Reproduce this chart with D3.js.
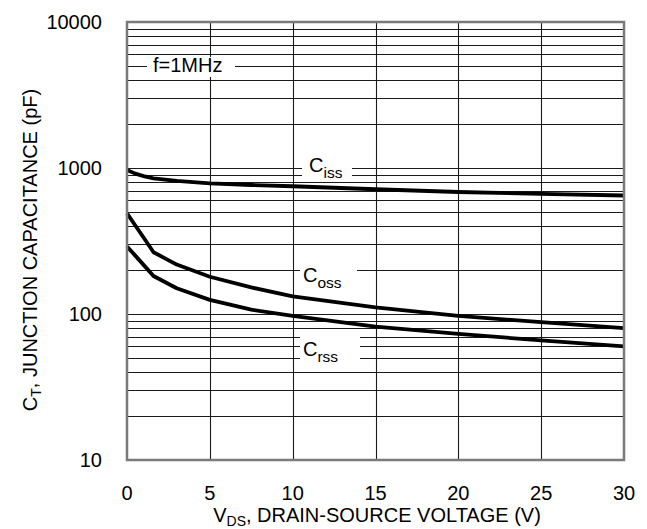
<!DOCTYPE html>
<html>
<head>
<meta charset="utf-8">
<script src="https://cdn.jsdelivr.net/npm/d3@7"></script>
<style>
    html, body { margin: 0; padding: 0; background: #fff; }
    svg { display: block; }
</style>
</head>
<body>
<div id="chart"></div>
<script>
// Data (pF vs V)
const voltage = [0, 0.5, 1, 1.6, 3, 5, 7.5, 10, 15, 20, 25, 30];
const ciss = [970, 915, 880, 848, 815, 785, 765, 750, 715, 685, 665, 648];
const coss = [490, 404, 334, 265, 218, 180, 152, 132, 111, 97, 88, 80];
const crss = [290, 251, 217, 182, 150, 125, 107, 97, 82, 73, 66, 60];

const xTicks = [0, 5, 10, 15, 20, 25, 30];
const yTicks = [10, 100, 1000, 10000];

const WIDTH = 647;
const HEIGHT = 529;
const FONT = 'Liberation Sans, Arial, Helvetica, sans-serif';
const FONT_SIZE = 20;
const SUB_SIZE = 15.5;
const margin = { left: 127, right: 23, top: 22, bottom: 69 };

const svg = d3.select('#chart').append('svg')
    .attr('width', WIDTH)
    .attr('height', HEIGHT)
    .attr('font-family', FONT)
    .attr('fill', '#000');

const x = d3.scaleLinear().domain([0, 30]).range([margin.left, WIDTH - margin.right]);
const y = d3.scaleLog().domain([10, 10000]).range([HEIGHT - margin.bottom, margin.top]);

// grid
const grid = svg.append('g').attr('class', 'grid');
const minorValues = [];
[10, 100, 1000].forEach(decade => {
    for (let m = 1; m < 10; m++) minorValues.push(decade * m);
});

grid.selectAll('line.h')
    .data(minorValues)
    .join('line')
    .attr('class', 'h')
    .attr('x1', x(0)).attr('x2', x(30))
    .attr('y1', d => Math.round(y(d)) + 0.5)
    .attr('y2', d => Math.round(y(d)) + 0.5)
    .attr('stroke', '#1a1a1a')
    .attr('stroke-width', 1.1);

grid.selectAll('line.v')
    .data(xTicks.slice(1, -1))
    .join('line')
    .attr('class', 'v')
    .attr('x1', d => Math.round(x(d)) + 0.5)
    .attr('x2', d => Math.round(x(d)) + 0.5)
    .attr('y1', y(10000)).attr('y2', y(10))
    .attr('stroke', '#1a1a1a')
    .attr('stroke-width', 1.1);

// white boxes that cut the grid behind labels
const labelBoxes = [
    { x0: 147, x1: 235, y0: 57, y1: 77 },
    { x0: 302, x1: 352, y0: 160, y1: 180 },
    { x0: 300, x1: 357, y0: 252, y1: 290 },
    { x0: 300, x1: 360, y0: 332, y1: 364 }
];
svg.selectAll('rect.box')
    .data(labelBoxes)
    .join('rect')
    .attr('class', 'box')
    .attr('x', d => d.x0).attr('y', d => d.y0)
    .attr('width', d => d.x1 - d.x0).attr('height', d => d.y1 - d.y0)
    .attr('fill', '#fff');

// curves
const line = d3.line()
    .x((d, i) => x(voltage[i]))
    .y(d => y(d));

svg.selectAll('path.curve')
    .data([ciss, coss, crss])
    .join('path')
    .attr('class', 'curve')
    .attr('d', line)
    .attr('fill', 'none')
    .attr('stroke', '#000')
    .attr('stroke-width', 3.8)
    .attr('stroke-linejoin', 'round');

// frame
svg.append('rect')
    .attr('x', x(0)).attr('y', y(10000))
    .attr('width', x(30) - x(0)).attr('height', y(10) - y(10000))
    .attr('fill', 'none')
    .attr('stroke', '#7a7a7a')
    .attr('stroke-width', 2.5);

// tick labels
svg.selectAll('text.ytick')
    .data(yTicks)
    .join('text')
    .attr('class', 'ytick')
    .attr('x', 102)
    .attr('y', d => y(d))
    .attr('dy', '0.35em')
    .attr('text-anchor', 'end')
    .attr('font-size', FONT_SIZE)
    .text(d => d);

svg.selectAll('text.xtick')
    .data(xTicks)
    .join('text')
    .attr('class', 'xtick')
    .attr('x', d => x(d))
    .attr('y', y(10) + 33)
    .attr('dy', '0.35em')
    .attr('text-anchor', 'middle')
    .attr('font-size', FONT_SIZE)
    .text(d => d);

// curve labels
function subLabel(px, py, main, sub) {
    const t = svg.append('text')
        .attr('x', px).attr('y', py)
        .attr('font-size', FONT_SIZE);
    t.append('tspan').text(main);
    t.append('tspan').attr('dy', 6).attr('font-size', SUB_SIZE).text(sub);
    return t;
}

svg.append('text')
    .attr('x', 153).attr('y', 72)
    .attr('font-size', FONT_SIZE)
    .text('f=1MHz');

subLabel(309, 172, 'C', 'iss');
subLabel(303, 282, 'C', 'oss');
subLabel(303, 356, 'C', 'rss');

// axis titles
const xTitle = svg.append('text')
    .attr('x', 377).attr('y', 522)
    .attr('text-anchor', 'middle')
    .attr('font-size', FONT_SIZE);
xTitle.append('tspan').text('V');
xTitle.append('tspan').attr('dy', 4).attr('font-size', 14).text('DS');
xTitle.append('tspan').attr('dy', -4).text(', DRAIN-SOURCE VOLTAGE (V)');

const yTitle = svg.append('text')
    .attr('transform', 'translate(37, 250) rotate(-90)')
    .attr('text-anchor', 'middle')
    .attr('font-size', FONT_SIZE);
yTitle.append('tspan').text('C');
yTitle.append('tspan').attr('dy', 4).attr('font-size', 14).text('T');
yTitle.append('tspan').attr('dy', -4).text(', JUNCTION CAPACITANCE (pF)');
</script>
</body>
</html>
